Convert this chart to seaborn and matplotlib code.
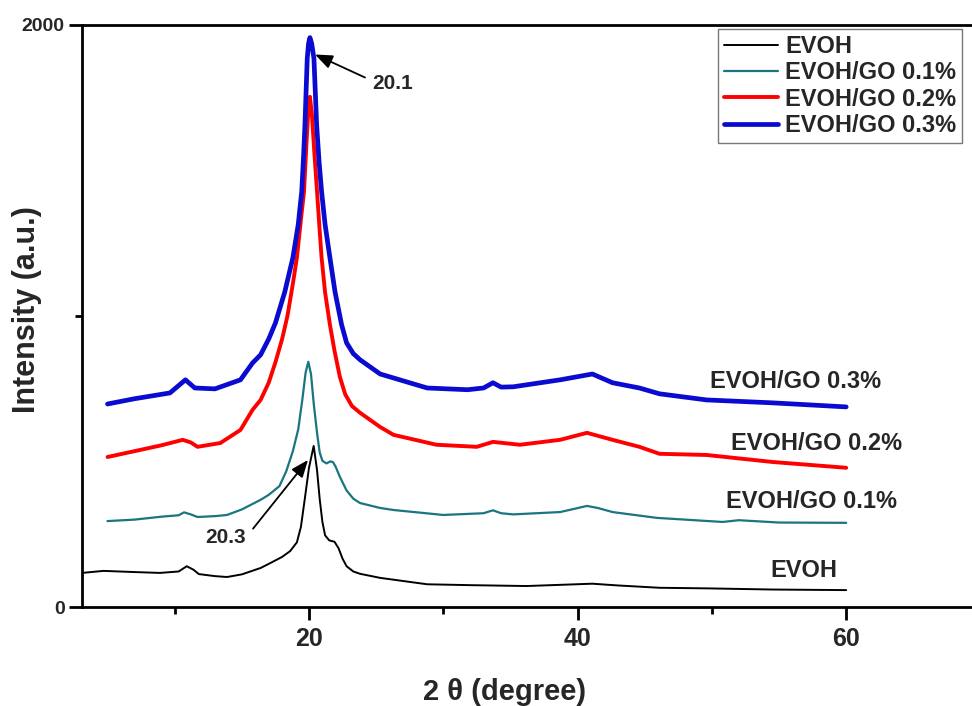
import matplotlib
matplotlib.use("Agg")
import matplotlib.pyplot as plt
import seaborn as sns
import pandas as pd

# XRD patterns of EVOH films with graphene oxide (2θ in degrees, intensity in a.u.)
evoh_x = [3.1, 4.7, 7.0, 8.9, 10.3, 10.9, 11.4, 11.8, 13.0, 13.9, 15.0, 16.4, 17.0, 18.0,
          18.6, 19.1, 19.4, 19.7, 20.0, 20.35, 20.6, 20.8, 21.0, 21.2, 21.5, 21.9, 22.2,
          22.5, 22.8, 23.3, 23.8, 25.3, 28.8, 32.0, 36.2, 41.1, 43.0, 46.1, 49.6, 54.5, 60.0]
evoh_y = [117, 124, 120, 117, 122, 140, 128, 113, 106, 103, 112, 134, 148, 172,
          192, 222, 275, 375, 478, 553, 470, 370, 292, 246, 229, 224, 202,
          166, 140, 122, 114, 100, 78, 75, 72, 80, 74, 66, 64, 60, 58]

go01_x = [5.0, 7.0, 9.0, 10.3, 10.7, 11.2, 11.7, 13.0, 13.9, 15.0, 16.4, 17.0, 17.8, 18.3,
          18.8, 19.2, 19.5, 19.75, 19.95, 20.15, 20.35, 20.6, 20.8, 21.0, 21.3, 21.6, 21.8,
          22.0, 22.3, 22.8, 23.3, 23.8, 25.3, 26.3, 30.0, 33.0, 33.7, 34.3, 35.2, 38.7,
          40.7, 41.5, 42.6, 45.9, 50.8, 52.0, 55.0, 60.0]
go01_y = [295, 300, 310, 315, 325, 318, 309, 312, 316, 335, 368, 385, 415, 465,
          535, 610, 710, 805, 842, 800, 700, 598, 530, 502, 493, 500, 497,
          480, 447, 400, 372, 357, 340, 333, 316, 322, 332, 322, 318, 326,
          347, 340, 326, 306, 292, 298, 290, 289]

go02_x = [5.0, 7.0, 9.0, 10.6, 11.2, 11.7, 13.4, 14.9, 15.8, 16.4, 17.0, 17.5, 18.0,
          18.4, 18.8, 19.1, 19.4, 19.63, 19.8, 19.92, 20.07, 20.22, 20.4, 20.6, 20.8,
          20.94, 21.2, 21.56, 21.9, 22.3, 22.7, 23.2, 23.8, 25.3, 26.3, 29.5, 32.5, 33.7,
          35.7, 38.7, 40.7, 42.6, 44.6, 46.1, 49.6, 54.5, 60.0]
go02_y = [515, 535, 555, 574, 565, 550, 563, 608, 677, 711, 770, 840, 920,
          1000, 1110, 1199, 1330, 1426, 1580, 1680, 1752, 1690, 1560, 1426, 1290,
          1199, 1080, 969, 880, 790, 730, 690, 667, 618, 591, 557, 550, 567,
          557, 574, 598, 574, 550, 526, 522, 498, 478]

go03_x = [5.0, 7.0, 9.65, 10.8, 11.5, 13.0, 14.9, 15.8, 16.4, 17.0, 17.5, 18.2, 18.8,
          19.2, 19.46, 19.6, 19.7, 19.87, 19.97, 20.07, 20.2, 20.37, 20.57, 20.75, 20.94,
          21.2, 21.56, 21.94, 22.43, 22.8, 23.3, 23.8, 25.3, 28.8, 31.8, 33.0, 33.7, 34.3,
          35.2, 38.7, 41.1, 42.6, 44.6, 46.1, 49.6, 54.5, 60.0]
go03_y = [697, 715, 735, 780, 752, 749, 780, 838, 866, 920, 975, 1082, 1199,
          1313, 1426, 1550, 1656, 1883, 1935, 1955, 1935, 1883, 1656, 1530, 1426,
          1313, 1199, 1082, 969, 907, 870, 849, 800, 752, 746, 752, 770, 755,
          756, 780, 800, 770, 752, 732, 711, 701, 687]

series_names = ["EVOH", "EVOH/GO 0.1%", "EVOH/GO 0.2%", "EVOH/GO 0.3%"]
series_colors = ["#000000", "#1a7580", "#ff0000", "#0a0ad0"]
series_widths = [1.4, 1.6, 2.8, 3.4]

x_major = [20, 40, 60]
x_minor = [10, 30, 50]
y_major = [0, 2000]
y_minor = [1000]

sns.set_style("ticks")
plt.rcParams["font.family"] = ["Liberation Sans", "DejaVu Sans"]
plt.rcParams["font.weight"] = "bold"

fig = plt.figure(figsize=(9.72, 7.06), dpi=100)
fig.patch.set_facecolor("white")
ax = fig.add_axes([82 / 972, 99 / 706, 898.5 / 972, 582.5 / 706])
ax.set_facecolor("white")

data = [(evoh_x, evoh_y), (go01_x, go01_y), (go02_x, go02_y), (go03_x, go03_y)]
for (xs, ys), name, col, lw in zip(data, series_names, series_colors, series_widths):
    df = pd.DataFrame({"two_theta": xs, "intensity": ys})
    sns.lineplot(data=df, x="two_theta", y="intensity", color=col, linewidth=lw,
                 label=name, ax=ax, sort=False)

ax.set_xlim(3.1, 70)
ax.set_ylim(0, 2000)
ax.set_xticks(x_major)
ax.set_xticks(x_minor, minor=True)
ax.set_yticks(y_major)
ax.set_yticks(y_minor, minor=True)
ax.set_xticklabels([str(v) for v in x_major], fontsize=18, fontweight="bold")
ax.set_yticklabels([str(v) for v in y_major], fontsize=14, fontweight="bold")

for side in ["left", "bottom", "top"]:
    ax.spines[side].set_linewidth(2.0)
    ax.spines[side].set_color("black")
ax.spines["right"].set_visible(False)

ax.tick_params(axis="both", which="major", direction="out", length=9.5, width=2.0,
               color="black")
ax.tick_params(axis="both", which="minor", direction="out", length=5, width=2.0,
               color="black")
ax.tick_params(axis="x", which="major", pad=5)
ax.tick_params(axis="y", which="major", pad=3)
ax.tick_params(top=False, right=False, which="both")

ax.set_xlabel("2 θ (degree)", fontsize=21, fontweight="bold", va="top")
ax.xaxis.set_label_coords((505 - 82) / 898.5, -0.122)
ax.set_ylabel("Intensity (a.u.)", fontsize=22, fontweight="bold", va="center")
ax.yaxis.set_label_coords(-0.0612, 0.51)

# Curve labels at the right end of each pattern
end_labels = [("EVOH/GO 0.3%", 49.86, 773), ("EVOH/GO 0.2%", 51.42, 563),
              ("EVOH/GO 0.1%", 51.05, 361), ("EVOH", 54.33, 127)]
for txt, lx, ly in end_labels:
    ax.text(lx, ly, txt, fontsize=17, fontweight="bold", ha="left", va="center")

# Peak position annotations
ax.annotate("20.1", xy=(20.45, 1897), xytext=(24.7, 1797), fontsize=15,
            fontweight="bold", ha="left", va="center",
            arrowprops=dict(arrowstyle="-|>,head_length=0.7,head_width=0.28",
                            color="black", lw=1.3, shrinkA=3, shrinkB=0,
                            relpos=(0, 0.65)))
ax.annotate("20.3", xy=(19.93, 505), xytext=(13.82, 240), fontsize=15,
            fontweight="bold", ha="center", va="center",
            arrowprops=dict(arrowstyle="-|>,head_length=0.7,head_width=0.28",
                            color="black", lw=1.3, shrinkA=4, shrinkB=0,
                            relpos=(1, 0.5)))

leg = ax.legend(loc="upper right", bbox_to_anchor=(962 / 972, 1 - 29 / 706),
                bbox_transform=fig.transFigure, fontsize=17, frameon=True,
                fancybox=False, borderpad=0.25, handletextpad=0.3, labelspacing=0.14,
                handlelength=2.3, borderaxespad=0)
leg.get_frame().set_edgecolor("#555555")
leg.get_frame().set_linewidth(1.0)
for t in leg.get_texts():
    t.set_fontweight("bold")

fig.savefig("out.png", dpi=100, facecolor="white")
